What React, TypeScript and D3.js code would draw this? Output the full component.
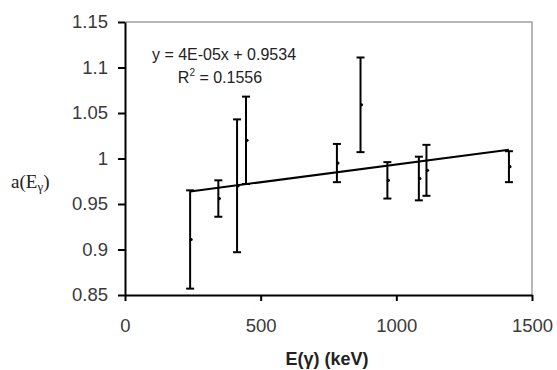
import React, { useEffect, useRef } from 'react';
import * as d3 from 'd3';

// gamma energies (keV), measured a(E) and its error
const energies = [240, 344, 413, 446, 781, 868, 967, 1083, 1111, 1415];
const values = [0.911, 0.956, 0.97, 1.02, 0.995, 1.059, 0.976, 0.978, 0.987, 0.991];
const errors = [0.054, 0.02, 0.073, 0.048, 0.021, 0.052, 0.02, 0.024, 0.028, 0.017];
const xTicks = [0, 500, 1000, 1500];
const yTicks = [0.85, 0.9, 0.95, 1, 1.05, 1.1, 1.15];

const App = () => {
    const chartRef = useRef(null);

    useEffect(() => {
        const width = 557;
        const height = 370;
        const svg = d3.select(chartRef.current);
        svg.selectAll('*').remove();
        svg.attr('width', width).attr('height', height);

        const left = 125, right = 532, top = 22, bottom = 295;
        const x = d3.scaleLinear().domain([0, 1500]).range([left, right]);
        const y = d3.scaleLinear().domain([0.85, 1.15]).range([bottom, top]);

        const data = energies.map((e, i) => ({ e, v: values[i], err: errors[i] }));

        svg.append('rect').attr('width', width).attr('height', height).attr('fill', '#fff');

        // top / right frame (grey)
        svg.append('path')
            .attr('d', `M${left},${top}H${right}V${bottom}`)
            .attr('fill', 'none')
            .attr('stroke', '#a0a0a0')
            .attr('stroke-width', 1.5);

        const fmt = d => String(+(+d).toFixed(2));

        const xAxis = svg.append('g')
            .attr('transform', `translate(0,${bottom})`)
            .call(d3.axisBottom(x).tickValues(xTicks).tickSize(6).tickSizeOuter(0).tickPadding(18).tickFormat(fmt));
        const yAxis = svg.append('g')
            .attr('transform', `translate(${left},0)`)
            .call(d3.axisLeft(y).tickValues(yTicks).tickSize(7).tickSizeOuter(0).tickPadding(10).tickFormat(fmt));

        [xAxis, yAxis].forEach(a => {
            a.selectAll('path, line').attr('stroke', '#000').attr('stroke-width', 2);
            a.selectAll('text')
                .attr('fill', '#3a3a3a')
                .style('font-family', 'Arial, "Liberation Sans", sans-serif')
                .style('font-size', '18.5px');
        });

        // linear trendline (least squares)
        const mx = d3.mean(energies);
        const my = d3.mean(values);
        const sxy = d3.sum(energies, (e, i) => (e - mx) * (values[i] - my));
        const sxx = d3.sum(energies, e => (e - mx) ** 2);
        const slope = sxy / sxx;
        const icpt = my - slope * mx;
        const [x0, x1] = d3.extent(energies);
        svg.append('line')
            .attr('x1', x(x0)).attr('y1', y(icpt + slope * x0))
            .attr('x2', x(x1)).attr('y2', y(icpt + slope * x1))
            .attr('stroke', '#000').attr('stroke-width', 2);

        // error bars
        const g = svg.append('g').attr('stroke', '#000').attr('stroke-width', 2);
        data.forEach(d => {
            const cx = x(d.e);
            g.append('line').attr('x1', cx).attr('x2', cx).attr('y1', y(d.v - d.err)).attr('y2', y(d.v + d.err));
            [d.v - d.err, d.v + d.err].forEach(v => {
                g.append('line').attr('x1', cx - 4).attr('x2', cx + 4).attr('y1', y(v)).attr('y2', y(v));
            });
        });
        svg.append('g').selectAll('circle')
            .data(data)
            .enter().append('circle')
            .attr('cx', d => x(d.e) + 1)
            .attr('cy', d => y(d.v))
            .attr('r', 1.6)
            .attr('fill', '#000');

        // equation
        const eq = svg.append('g')
            .attr('fill', '#222')
            .style('font-family', 'Arial, "Liberation Sans", sans-serif')
            .style('font-size', '16px');
        eq.append('text')
            .attr('x', 224).attr('y', 60)
            .attr('text-anchor', 'middle')
            .text('y = 4E-05x + 0.9534');
        const r2 = eq.append('text').attr('x', 220).attr('y', 83).attr('text-anchor', 'middle');
        r2.append('tspan').text('R');
        r2.append('tspan').attr('dy', -7).style('font-size', '10px').text('2');
        r2.append('tspan').attr('dy', 7).text(' = 0.1556');

        // axis titles
        svg.append('text')
            .attr('x', 327).attr('y', 365)
            .attr('text-anchor', 'middle')
            .attr('fill', '#222')
            .style('font-family', 'Arial, "Liberation Sans", sans-serif')
            .style('font-size', '18px')
            .style('font-weight', 'bold')
            .text('E(γ) (keV)');

        const yl = svg.append('text')
            .attr('x', 11).attr('y', 188)
            .attr('fill', '#222')
            .style('font-family', '"Liberation Serif", "Times New Roman", serif')
            .style('font-size', '19px');
        yl.append('tspan').text('a(E');
        yl.append('tspan').attr('dy', 3).style('font-size', '13px').text('γ');
        yl.append('tspan').attr('dy', -3).text(')');
    }, []);

    return (
        <svg ref={chartRef} style={{ position: 'absolute', left: 0, top: 0 }}></svg>
    );
};

export default App;
